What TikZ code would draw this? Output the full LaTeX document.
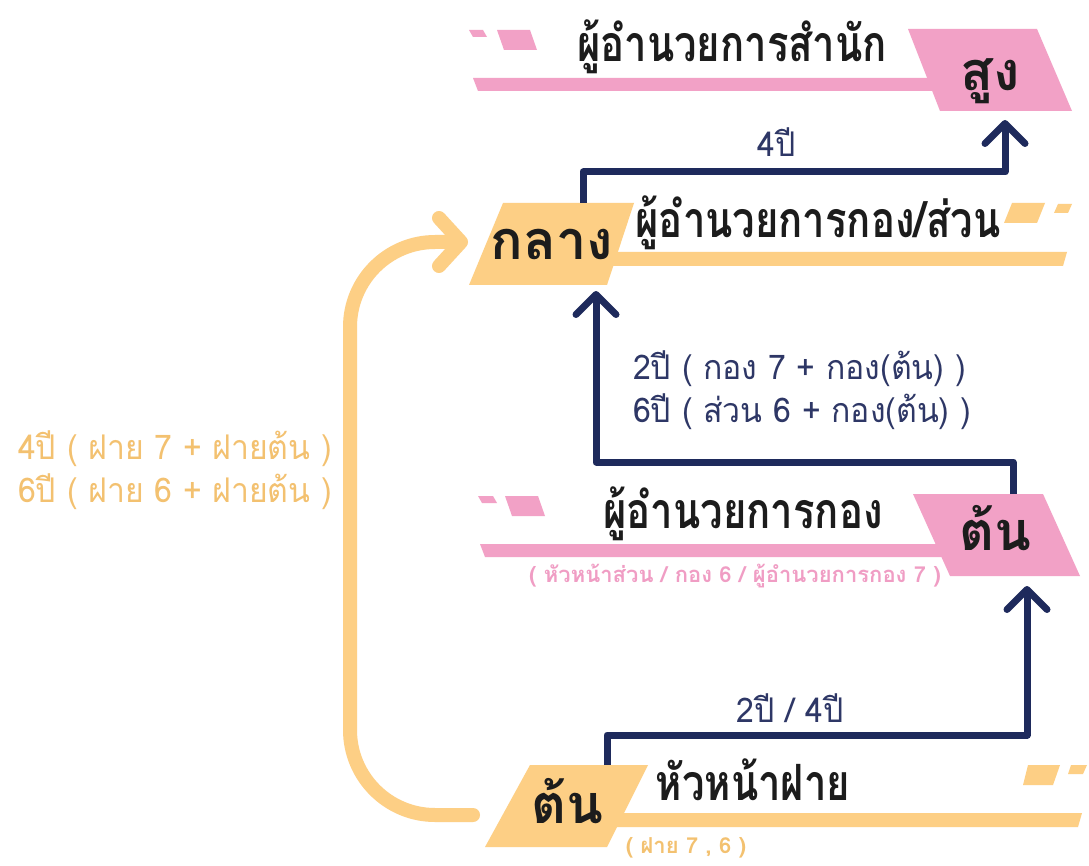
\documentclass[tikz,border=0pt]{standalone}
\usepackage{fontspec}
\newfontfamily\thaifont[Script=Thai]{Loma}
\newfontfamily\thaicond[Script=Thai,FakeStretch=0.8]{Loma}
\newfontfamily\thaimid[Script=Thai,FakeStretch=0.94]{Loma}
\usetikzlibrary{arrows.meta}
\definecolor{chompu}{HTML}{F2A1C6}
\definecolor{lueang}{HTML}{FDCF85}
\definecolor{nam}{HTML}{1E2A5C}
\definecolor{namtxt}{HTML}{2E3766}
\definecolor{lueangtxt}{HTML}{F3C170}
\definecolor{chomputxt}{HTML}{F09DC4}
\definecolor{dam}{HTML}{1C1C1C}

\begin{document}
\begin{tikzpicture}[x=1pt,y=-1pt]
\tikzset{radap/.style={font=\thaifont\bfseries\fontsize{54}{60}\selectfont, text=dam, inner sep=0pt, anchor=base},
tamnaeng/.style={font=\thaicond\bfseries\fontsize{50}{56}\selectfont, text=dam, inner sep=0pt, anchor=base},
rayawela/.style={font=\thaimid\fontsize{34}{43}\selectfont, text=namtxt, inner sep=0pt, anchor=base},
rong/.style={font=\thaifont\bfseries\fontsize{22}{26}\selectfont, inner sep=0pt, anchor=base},
sennam/.style={draw=nam, line width=7pt, line join=round, -{Straight Barb[length=20pt,width=40pt,round]}},
senlueang/.style={draw=lueang, line width=14pt, line cap=round, rounded corners=85pt, -{Straight Barb[length=22pt,width=48pt,round]}}}
\useasboundingbox (0,0) rectangle (1089,866);
\fill[white] (0,0) rectangle (1089,866);
% sung
\fill[chompu] (469,30) -- (483,30) -- (487,37) -- (473,37) -- cycle;
\fill[chompu] (497,30) -- (530,30) -- (537,50) -- (504,50) -- cycle;
\fill[chompu] (473,78) -- (930,78) -- (935,91) -- (478,91) -- cycle;
\fill[chompu] (908,29) -- (1037,29) -- (1072,111) -- (940,111) -- cycle;
% klang
\fill[lueang] (600,252) -- (1067,252) -- (1063,266) -- (600,266) -- cycle;
\fill[lueang] (1012,203) -- (1045,203) -- (1037,223) -- (1004,223) -- cycle;
\fill[lueang] (1058,204) -- (1072,204) -- (1068,213) -- (1054,213) -- cycle;
\fill[lueang] (503,203) -- (634,203) -- (607,285) -- (469,285) -- cycle;
% ton kong
\fill[chompu] (478,496) -- (493,496) -- (497,503) -- (482,503) -- cycle;
\fill[chompu] (505,496) -- (538,496) -- (545,516) -- (512,516) -- cycle;
\fill[chompu] (480,544) -- (940,544) -- (945,557) -- (485,557) -- cycle;
\fill[chompu] (913,494) -- (1043,494) -- (1080,576) -- (950,576) -- cycle;
% ton fai
\fill[lueang] (600,813) -- (1082,813) -- (1078,827) -- (600,827) -- cycle;
\fill[lueang] (1028,765) -- (1060,765) -- (1053,785) -- (1023,785) -- cycle;
\fill[lueang] (1071,765) -- (1087,765) -- (1083,774) -- (1068,774) -- cycle;
\fill[lueang] (530,765) -- (648,765) -- (607,847) -- (485,847) -- cycle;

\node[tamnaeng] (samnak) at (732,62) {ผู้อำนวยการสำนัก};
\node[radap] (sung) at (990,91) {สูง};
\node[rayawela] (pi4) at (777,157) {4ปี};
\node[radap] (klang) at (552,260) {กลาง};
\node[tamnaeng] (kongsuan) at (818,238) {ผู้อำนวยการกอง/ส่วน};
\node[rayawela, align=left, anchor=base west] (kongpi) at (633,422) {2ปี ( กอง 7 + กอง(ต้น) )\\6ปี ( ส่วน 6 + กอง(ต้น) )};
\node[tamnaeng] (kong) at (743,528) {ผู้อำนวยการกอง};
\node[radap] (tonkong) at (995,550) {ต้น};
\node[rong, text=chomputxt] (kongrong) at (735,582) {( หัวหน้าส่วน / กอง 6 / ผู้อำนวยการกอง 7 )};
\node[rayawela] (pi24) at (790,722) {2ปี / 4ปี};
\node[radap] (tonfai) at (567,823) {ต้น};
\node[tamnaeng] (fai) at (753,800) {หัวหน้าฝาย};
\node[rong, text=lueangtxt] (fairong) at (686,853) {( ฝาย 7 , 6 )};
\node[rayawela, text=lueangtxt, align=left, anchor=base west] (faipi) at (18,502) {4ปี ( ฝาย 7 + ฝายต้น )\\6ปี ( ฝาย 6 + ฝายต้น )};

\coordinate (klangbon) at (583,203);
\coordinate (sunglang) at (1005,120);
\coordinate (tonkongbon) at (1013,494);
\coordinate (klanglang) at (596,291);
\coordinate (tonfaibon) at (607,765);
\coordinate (tonkonglang) at (1027,586);
\coordinate (tonfaisai) at (473,815);
\coordinate (klangsai) at (468,242);
\draw[sennam] (klangbon) -- ++(0,-31) -| (sunglang);
\draw[sennam] (tonkongbon) -- ++(0,-32) -| (klanglang);
\draw[sennam] (tonfaibon) -- ++(0,-30) -| (tonkonglang);
\draw[senlueang] (tonfaisai) -- ++(-123,0) |- (klangsai);
\end{tikzpicture}
\end{document}
